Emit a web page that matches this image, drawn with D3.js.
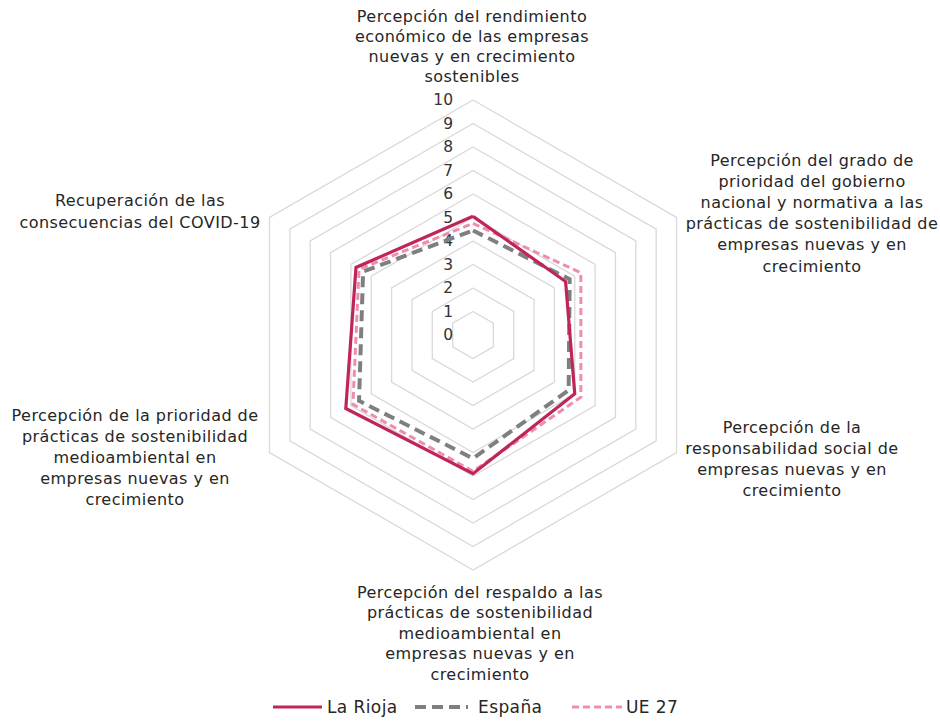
<!DOCTYPE html>
<html><head><meta charset="utf-8">
<script src="https://cdn.jsdelivr.net/npm/d3@7"></script>
<style>body{margin:0;background:#fff}svg{display:block;font-family:"DejaVu Sans",sans-serif}</style>
</head><body><svg id="c" width="940" height="722"></svg>
<script>
const categories = [
 ["Percepción del rendimiento","económico de las empresas","nuevas y en crecimiento","sostenibles"],
 ["Percepción del grado de","prioridad del gobierno","nacional y normativa a las","prácticas de sostenibilidad de","empresas nuevas y en","crecimiento"],
 ["Percepción de la","responsabilidad social de","empresas nuevas y en","crecimiento"],
 ["Percepción del respaldo a las","prácticas de sostenibilidad","medioambiental en","empresas nuevas y en","crecimiento"],
 ["Percepción de la prioridad de","prácticas de sostenibilidad","medioambiental en","empresas nuevas y en","crecimiento"],
 ["Recuperación de las","consecuencias del COVID-19"]
];
const seriesNames = ["La Rioja","España","UE 27"];
const laRioja = [5.05, 4.55, 5.0, 5.9, 6.25, 5.75];
const espana  = [4.45, 4.75, 4.7, 5.25, 5.6, 5.4];
const ue27    = [4.75, 5.3, 5.3, 5.8, 5.9, 5.6];
const tickValues = [0,1,2,3,4,5,6,7,8,9,10];

const svg = d3.select("#c");
const cx = 473, cy = 335, R = 235;
const r = d3.scaleLinear().domain([0,10]).range([0,R]);
const n = categories.length;
const ang = i => i * 2*Math.PI/n;
const pt = (i,v) => [cx + r(v)*Math.sin(ang(i)), cy - r(v)*Math.cos(ang(i))];

const g = svg.append("g");
tickValues.slice(1).forEach(t=>{
  g.append("path").attr("d", d3.line()(d3.range(n).map(i=>pt(i,t)).concat([pt(0,t)])))
   .attr("fill","none").attr("stroke","#d9d9d9").attr("stroke-width",1.3);
});
tickValues.forEach(t=>{
  g.append("text").attr("x",cx-20).attr("y",cy - r(t)).attr("dy","0.35em")
   .attr("text-anchor","end").attr("font-size",15.5).attr("fill","#333").text(t);
});

const styles = [
  {color:"#C0245C", w:3.2, dash:null},
  {color:"#7F7F7F", w:4, dash:"11,6"},
  {color:"#EE8FAA", w:3, dash:"7,4"}
];
const data = [laRioja, espana, ue27];
[2,1,0].forEach(k=>{
  const pts = data[k].map((v,i)=>pt(i,v));
  svg.append("path").attr("d", d3.line()(pts.concat([pts[0]])))
    .attr("fill","none").attr("stroke",styles[k].color).attr("stroke-width",styles[k].w)
    .attr("stroke-dasharray",styles[k].dash).attr("stroke-linejoin","miter");
});

// category labels
const labelPos = [
  {x:472, y:16},
  {x:812, y:160},
  {x:792, y:427},
  {x:480, y:592},
  {x:135, y:415},
  {x:140, y:200}
];
const lh = [20, 21.2, 21, 20.6, 21.2, 22];
categories.forEach((lines,i)=>{
  const t = svg.append("text").attr("font-size",16).attr("letter-spacing",0.45).attr("fill","#262626")
     .attr("text-anchor","middle");
  lines.forEach((s,j)=>{
    t.append("tspan").attr("x",labelPos[i].x).attr("y",labelPos[i].y + j*lh[i]).attr("dy","0.35em").text(s);
  });
});

// legend
const leg = [
  {x1:273,x2:322,tx:327},
  {x1:415,x2:468,tx:478},
  {x1:572,x2:622,tx:626}
];
seriesNames.forEach((s,k)=>{
  svg.append("line").attr("x1",leg[k].x1).attr("x2",leg[k].x2).attr("y1",707).attr("y2",707)
    .attr("stroke",styles[k].color).attr("stroke-width",styles[k].w)
    .attr("stroke-dasharray",styles[k].dash);
  svg.append("text").attr("x",leg[k].tx).attr("y",707).attr("dy","0.35em")
    .attr("font-size",17).attr("letter-spacing",0.4).attr("fill","#262626").text(s);
});
</script></body></html>
